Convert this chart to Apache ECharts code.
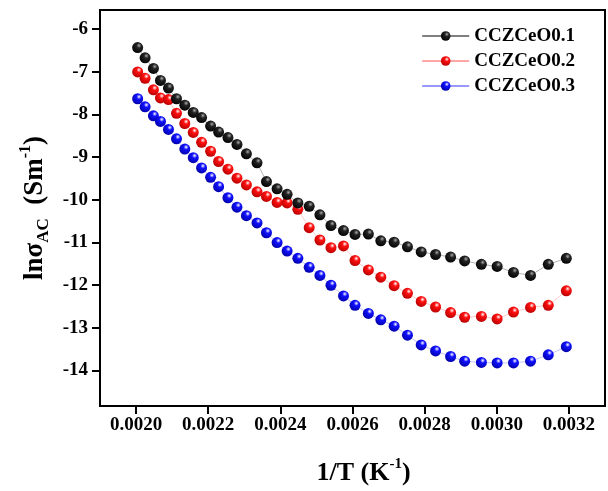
<!DOCTYPE html>
<html>
<head>
<meta charset="utf-8">
<script src="https://cdn.jsdelivr.net/npm/echarts@6/dist/echarts.min.js"></script>
<style>html,body{margin:0;padding:0;background:#fff}#c{width:608px;height:491px}</style>
</head>
<body>
<div id="c"></div>
<script>
// 1/T values (K^-1)
var invT = [0.0020044,0.0020250,0.0020481,0.0020676,0.0020898,0.0021121,0.0021351,0.0021585,0.0021816,0.0022066,
  0.0022288,0.0022547,0.0022797,0.0023059,0.0023353,0.0023615,0.0023909,0.0024187,0.0024485,0.0024799,
  0.0025097,0.0025403,0.0025750,0.0026070,0.0026440,0.0026785,0.0027154,0.0027524,0.0027905,0.0028303,
  0.0028720,0.0029109,0.0029573,0.0030010,0.0030463,0.0030936,0.0031428,0.0031928];
var ceo01 = [-6.43,-6.67,-6.92,-7.20,-7.38,-7.63,-7.78,-7.95,-8.07,-8.27,
  -8.41,-8.54,-8.70,-8.92,-9.13,-9.57,-9.74,-9.87,-10.07,-10.15,
  -10.35,-10.60,-10.72,-10.81,-10.80,-10.96,-10.99,-11.10,-11.22,-11.28,
  -11.34,-11.43,-11.51,-11.56,-11.70,-11.77,-11.51,-11.37];
var ceo02 = [-7.00,-7.15,-7.42,-7.61,-7.65,-7.97,-8.21,-8.42,-8.65,-8.86,
  -9.10,-9.28,-9.49,-9.65,-9.81,-9.92,-10.06,-10.07,-10.22,-10.65,
  -10.94,-11.12,-11.08,-11.42,-11.64,-11.81,-12.01,-12.19,-12.38,-12.51,
  -12.64,-12.75,-12.73,-12.79,-12.63,-12.52,-12.47,-12.13];
var ceo03 = [-7.63,-7.82,-8.03,-8.16,-8.35,-8.57,-8.81,-9.01,-9.25,-9.47,
  -9.69,-9.95,-10.17,-10.37,-10.54,-10.77,-11.00,-11.20,-11.37,-11.58,
  -11.77,-12.00,-12.25,-12.47,-12.66,-12.81,-12.96,-13.17,-13.40,-13.54,
  -13.67,-13.78,-13.81,-13.82,-13.82,-13.78,-13.63,-13.44];
var seriesNames = ['CCZCeO0.1','CCZCeO0.2','CCZCeO0.3'];
var xTicks = [0.0020,0.0022,0.0024,0.0026,0.0028,0.0030,0.0032];
var yTicks = [-14,-13,-12,-11,-10,-9,-8,-7,-6];

function pairs(ys){ return ys.map(function(v,i){ return [invT[i], v]; }); }
function sphere(hi, base, dark){
  return {type:'radial', x:0.62, y:0.32, r:0.75, colorStops:[
    {offset:0, color:hi},{offset:0.3, color:base},{offset:1, color:dark}]};
}
var font = '"Liberation Serif","Times New Roman",serif';
var styles = [
  {c: sphere('#aaa','#222','#000'), line:'#000', faint:'rgba(0,0,0,0.3)'},
  {c: sphere('#fff','#ff1010','#b00000'), line:'#ff5050', faint:'rgba(255,80,80,0.3)'},
  {c: sphere('#fff','#1010ff','#0000a0'), line:'#3030ff', faint:'rgba(60,60,255,0.3)'}
];
var data = [ceo01, ceo02, ceo03];

var chart = echarts.init(document.getElementById('c'), null, {renderer:'canvas'});
chart.setOption({
  animation:false,
  backgroundColor:'#fff',
  grid:{left:100, right:3, top:10, bottom:72, show:true, borderColor:'#000', borderWidth:2},
  legend:{
    orient:'vertical', right:28, top:21, itemWidth:47, itemHeight:12, itemGap:5,
    textStyle:{fontFamily:font, fontWeight:'bold', fontSize:19, lineHeight:20, color:'#000'},
    data: seriesNames.map(function(n,i){ return {name:n, lineStyle:{color:styles[i].line, width:1, opacity:1}}; })
  },
  xAxis:{
    type:'value', min:0.0019, max:0.0033,
    name:'{m|1/T (K}{s|-1}{m|)}', nameLocation:'middle', nameGap:51,
    nameTextStyle:{padding:[0,0,0,22], rich:{
      m:{fontFamily:font, fontWeight:'bold', fontSize:26, lineHeight:32, color:'#000'},
      s:{fontFamily:font, fontWeight:'bold', fontSize:15, lineHeight:15, verticalAlign:'top', color:'#000'}}},
    axisLine:{lineStyle:{color:'#000', width:2}},
    axisTick:{show:true, inside:false, length:8, lineStyle:{width:2, color:'#000'}, customValues:xTicks},
    axisLabel:{customValues:xTicks, margin:10, fontFamily:font, fontWeight:'bold', fontSize:19, color:'#000',
      formatter:function(v){ return v.toFixed(4); }},
    splitLine:{show:false}
  },
  yAxis:{
    type:'value', min:-14.83, max:-5.55,
    name:'{m|lnσ}{b|AC}{m|  (Sm}{s|-1}{m|)}', nameLocation:'middle', nameGap:47, nameRotate:90,
    nameTextStyle:{rich:{
      m:{fontFamily:font, fontWeight:'bold', fontSize:27, lineHeight:34, color:'#000'},
      b:{fontFamily:font, fontWeight:'bold', fontSize:17, lineHeight:17, verticalAlign:'bottom', color:'#000'},
      s:{fontFamily:font, fontWeight:'bold', fontSize:16, lineHeight:16, verticalAlign:'top', color:'#000'}}},
    axisLine:{show:true, lineStyle:{color:'#000', width:2}},
    axisTick:{show:true, inside:false, length:8, lineStyle:{width:2, color:'#000'}, customValues:yTicks},
    axisLabel:{customValues:yTicks, margin:12, fontFamily:font, fontWeight:'bold', fontSize:19, color:'#000'},
    splitLine:{show:false}
  },
  series: seriesNames.map(function(n,i){
    return {
      name:n, type:'line', data:pairs(data[i]), symbol:'circle', symbolSize:11, showSymbol:true,
      itemStyle:{color:styles[i].c, borderWidth:0},
      lineStyle:{color:styles[i].faint, width:1},
      z: 3 - i
    };
  })
});
</script>
</body>
</html>
